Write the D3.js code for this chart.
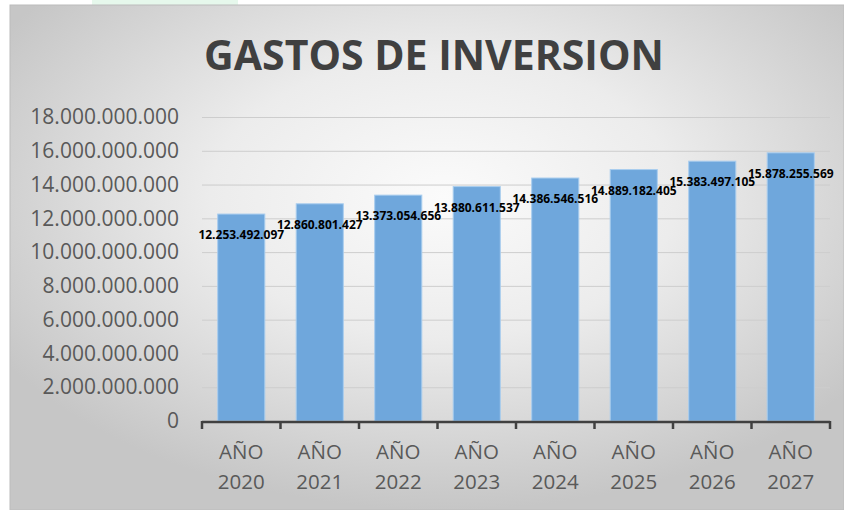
<!DOCTYPE html>
<html>
<head>
    <meta charset="utf-8">
    <title>Gastos de Inversion</title>
    <script src="https://d3js.org/d3.v7.min.js"></script>
    <style>
        body {
            margin: 0;
            overflow: hidden;
            background: #fff;
        }
        text {
            font-family: "Open Sans", sans-serif;
        }
    </style>
</head>
<body>
    <div id="viz"></div>
    <script>
        // chart data
        const years = ['2020', '2021', '2022', '2023', '2024', '2025', '2026', '2027'];
        const gastos = [12253492097, 12860801427, 13373054656, 13880611537,
                        14386546516, 14889182405, 15383497105, 15878255569];
        const yTicks = [0, 2e9, 4e9, 6e9, 8e9, 10e9, 12e9, 14e9, 16e9, 18e9];
        const title = 'GASTOS DE INVERSION';

        const width = 844;
        const height = 510;

        // spanish style thousands separator
        const es = d3.formatLocale({ decimal: ',', thousands: '.', grouping: [3], currency: ['', ''] });
        const fmt = es.format(',.0f');

        const svg = d3.select('#viz')
            .append('svg')
            .attr('width', width)
            .attr('height', height);

        // background gradient, light in the middle, gray at the edges
        const defs = svg.append('defs');
        const grad = defs.append('radialGradient')
            .attr('id', 'bg')
            .attr('cx', '52%').attr('cy', '38%').attr('r', '62%');
        grad.append('stop').attr('offset', '0%').attr('stop-color', '#fbfbfb');
        grad.append('stop').attr('offset', '45%').attr('stop-color', '#ececec');
        grad.append('stop').attr('offset', '100%').attr('stop-color', '#c6c6c6');

        // little green strip peeking above the chart
        svg.append('rect')
            .attr('x', 92).attr('y', 0).attr('width', 146).attr('height', 5)
            .attr('fill', '#e6f8ec');

        svg.append('rect')
            .attr('x', 10).attr('y', 5)
            .attr('width', width - 10).attr('height', height - 5)
            .attr('fill', 'url(#bg)')
            .attr('stroke', '#bcbcbc')
            .attr('stroke-width', 1);

        const margin = { left: 202, right: 14, top: 117, bottom: 89 };

        const x = d3.scaleBand()
            .domain(years)
            .range([margin.left, width - margin.right])
            .paddingInner(0.4)
            .paddingOuter(0.2);

        const xEdges = d3.scaleBand()
            .domain(years)
            .range([margin.left, width - margin.right]);

        const y = d3.scaleLinear()
            .domain([0, 18e9])
            .range([height - margin.bottom, margin.top]);

        // gridlines
        svg.append('g')
            .selectAll('line')
            .data(yTicks.slice(1))
            .enter().append('line')
            .attr('x1', margin.left)
            .attr('x2', width - margin.right)
            .attr('y1', d => y(d) + 0.5)
            .attr('y2', d => y(d) + 0.5)
            .attr('stroke', '#cdcdcd')
            .attr('stroke-width', 1);

        // y axis labels only
        const yAxis = svg.append('g')
            .attr('transform', `translate(${margin.left},0)`)
            .call(d3.axisLeft(y).tickValues(yTicks).tickSize(0).tickPadding(23).tickFormat(fmt));
        yAxis.select('.domain').remove();
        yAxis.selectAll('text')
            .style('font-size', '21px')
            .attr('fill', '#595959');

        // bars
        svg.append('g')
            .selectAll('rect')
            .data(gastos)
            .enter().append('rect')
            .attr('x', (d, i) => x(years[i]))
            .attr('y', d => y(d))
            .attr('width', x.bandwidth())
            .attr('height', d => y(0) - y(d))
            .attr('fill', '#6fa7dc')
            .attr('stroke', '#a9cdee')
            .attr('stroke-width', 1);

        // x axis line with ticks at category edges
        const edges = years.map(d => xEdges(d)).concat([width - margin.right]);
        const axisG = svg.append('g');
        axisG.append('line')
            .attr('x1', margin.left).attr('x2', width - margin.right)
            .attr('y1', y(0) + 1).attr('y2', y(0) + 1)
            .attr('stroke', '#404040').attr('stroke-width', 2.5);
        axisG.selectAll('.tick')
            .data(edges)
            .enter().append('line')
            .attr('x1', d => d).attr('x2', d => d)
            .attr('y1', y(0)).attr('y2', y(0) + 8)
            .attr('stroke', '#404040').attr('stroke-width', 2.5);

        // category labels, two lines
        const xl = svg.append('g')
            .selectAll('text')
            .data(years)
            .enter().append('text')
            .attr('x', d => x(d) + x.bandwidth() / 2)
            .attr('text-anchor', 'middle')
            .style('font-size', '20.5px')
            .attr('fill', '#595959');
        xl.append('tspan')
            .attr('x', d => x(d) + x.bandwidth() / 2)
            .attr('y', 459)
            .text('AÑO');
        xl.append('tspan')
            .attr('x', d => x(d) + x.bandwidth() / 2)
            .attr('y', 489)
            .text(d => d);

        // value labels
        svg.append('g')
            .selectAll('text')
            .data(gastos)
            .enter().append('text')
            .attr('x', (d, i) => x(years[i]) + x.bandwidth() / 2)
            .attr('y', d => y(d) + 25)
            .attr('text-anchor', 'middle')
            .style('font-size', '12px')
            .style('font-weight', 700)
            .attr('fill', '#000')
            .text(d => fmt(d));

        // title
        svg.append('text')
            .attr('x', 434)
            .attr('y', 70)
            .attr('text-anchor', 'middle')
            .style('font-size', '41px')
            .style('font-weight', 700)
            .attr('fill', '#404040')
            .text(title);
    </script>
</body>
</html>
